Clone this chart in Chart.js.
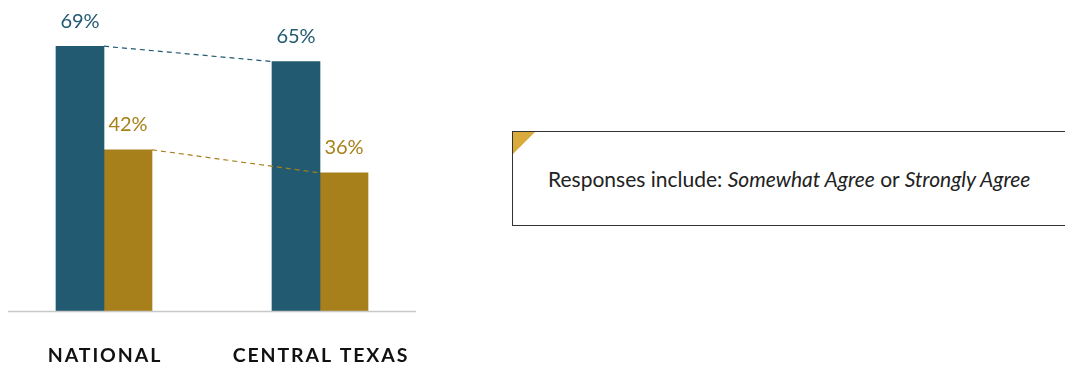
<!DOCTYPE html>
<html>
<head>
<meta charset="utf-8">
<script src="https://cdn.jsdelivr.net/npm/chart.js@4.4.1/dist/chart.umd.min.js"></script>
<style>
  html, body { margin: 0; padding: 0; background: #fff; width: 1065px; height: 366px; overflow: hidden; }
  #wrap { position: absolute; left: -4px; top: 0; width: 432px; height: 366px; }
  #note {
    position: absolute; left: 512px; top: 131px; width: 560px; height: 95px;
    border: 1px solid #333; box-sizing: border-box; background: #fff;
    font-family: Lato, "Open Sans", sans-serif; font-size: 21px; color: #222;
  }
  #note .corner {
    position: absolute; left: 0; top: 0; width: 0; height: 0;
    border-top: 22px solid #d8ab3b; border-right: 22px solid transparent;
  }
  #note .txt { position: absolute; left: 35px; top: 34px; white-space: nowrap; }
  #note em { font-style: italic; }
</style>
</head>
<body>
<div id="wrap"><canvas id="c"></canvas></div>
<div id="note"><div class="corner"></div><div class="txt">Responses include: <em>Somewhat Agree</em> or <em>Strongly Agree</em></div></div>
<script>
// Share of respondents who agree, by region
const categories = ["NATIONAL", "CENTRAL TEXAS"];
const seriesA = [69, 65];   // dark teal bars
const seriesB = [42, 36];   // gold bars
const colorA = "#225a72";
const colorB = "#a8801b";

// Value labels, dashed connectors between matching bars, baseline and category names
const decorations = {
  id: "decorations",
  afterDatasetsDraw(chart) {
    const ctx = chart.ctx;
    const area = chart.chartArea;
    ctx.save();

    // dashed connectors: right edge of first bar to left edge of the second
    chart.data.datasets.forEach((ds, di) => {
      const bars = chart.getDatasetMeta(di).data;
      for (let i = 0; i < bars.length - 1; i++) {
        const a = bars[i], b = bars[i + 1];
        ctx.beginPath();
        ctx.setLineDash([5, 4]);
        ctx.lineWidth = 1.2;
        ctx.strokeStyle = ds.backgroundColor;
        ctx.moveTo(a.x + a.width / 2, a.y);
        ctx.lineTo(b.x - b.width / 2, b.y);
        ctx.stroke();
      }
    });
    ctx.setLineDash([]);

    // value labels above each bar
    ctx.font = '20px Lato, "Open Sans", sans-serif';
    ctx.textAlign = "center";
    ctx.textBaseline = "middle";
    chart.data.datasets.forEach((ds, di) => {
      const bars = chart.getDatasetMeta(di).data;
      ctx.fillStyle = ds.backgroundColor;
      bars.forEach((bar, i) => {
        ctx.fillText(ds.data[i] + "%", bar.x, bar.y - 25);
      });
    });

    // baseline
    ctx.beginPath();
    ctx.strokeStyle = "#c9c9c9";
    ctx.lineWidth = 1.5;
    ctx.moveTo(area.left + 12, area.bottom + 0.5);
    ctx.lineTo(area.right - 12, area.bottom + 0.5);
    ctx.stroke();

    // category names
    const xs = chart.scales.x;
    ctx.fillStyle = "#111";
    ctx.font = 'bold 19.5px Lato, "Open Sans", sans-serif';
    ctx.letterSpacing = "1.9px";
    ctx.textBaseline = "alphabetic";
    categories.forEach((c, i) => {
      ctx.fillText(c, xs.getPixelForValue(i) + 1, area.bottom + 51);
    });
    ctx.restore();
  }
};

new Chart(document.getElementById("c"), {
  type: "bar",
  data: {
    labels: categories,
    datasets: [
      { data: seriesA, backgroundColor: colorA, barThickness: 48, borderWidth: 0 },
      { data: seriesB, backgroundColor: colorB, barThickness: 48, borderWidth: 0 }
    ]
  },
  options: {
    responsive: true,
    maintainAspectRatio: false,
    animation: false,
    layout: { padding: { top: 4, bottom: 55, left: 0, right: 0 } },
    plugins: { legend: { display: false }, tooltip: { enabled: false } },
    scales: {
      x: { display: false },
      y: { display: false, min: 0, max: 80 }
    }
  },
  plugins: [decorations]
});
</script>
</body>
</html>
